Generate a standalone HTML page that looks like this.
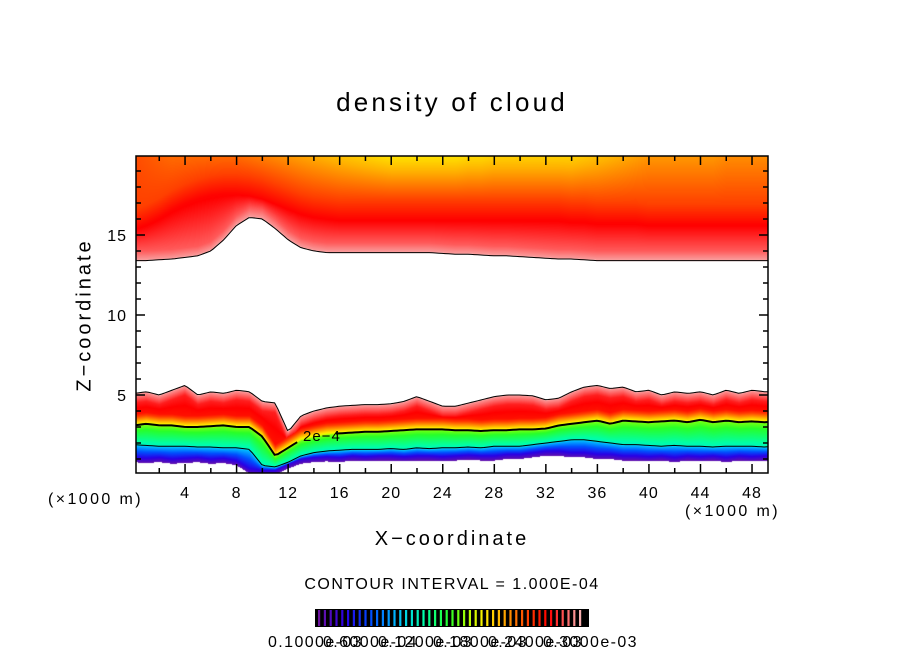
<!DOCTYPE html>
<html><head><meta charset="utf-8">
<style>
body{margin:0;background:#fff;width:904px;height:654px;overflow:hidden;position:relative;font-family:"Liberation Sans",sans-serif;}
.t{position:absolute;color:#000;white-space:nowrap;}
canvas{position:absolute;left:136px;top:156px;}
svg{position:absolute;left:0;top:0;}
</style></head><body>
<div class="t" style="left:0;width:904px;text-align:center;top:87px;font-size:26px;letter-spacing:3.2px;">density of cloud</div>
<canvas id="cv" width="632" height="317"></canvas>
<svg id="sv" width="904" height="654"></svg>
<div class="t" style="left:85px;top:315px;font-size:20px;transform:translate(-50%,-50%) rotate(-90deg);letter-spacing:3px;">Z−coordinate</div>
<div class="t" style="left:0;width:904px;text-align:center;top:528px;font-size:20px;letter-spacing:3px;">X−coordinate</div>
<div class="t" style="left:48px;top:491px;font-size:16px;letter-spacing:2.4px;">(×1000 m)</div>
<div class="t" style="left:685px;top:503px;font-size:16px;letter-spacing:2.4px;">(×1000 m)</div>
<div class="t" style="left:0;width:904px;text-align:center;top:576px;font-size:16px;letter-spacing:1.5px;">CONTOUR INTERVAL = 1.000E-04</div>
<div class="t" style="left:303px;top:428px;font-size:15px;letter-spacing:1px;">2e−4</div>
<script>
const xs=[...Array(51).keys()];
const zTop=[5.1,5.2,5.0,5.3,5.6,5.0,5.2,5.1,5.3,5.2,4.6,4.5,2.7,3.7,4.0,4.2,4.3,4.35,4.4,4.4,4.45,4.6,4.9,4.6,4.3,4.3,4.5,4.7,4.9,5.0,5.0,4.95,4.7,4.8,5.2,5.5,5.6,5.4,5.5,5.2,5.3,5.0,5.2,5.1,5.2,5.0,5.3,5.1,5.3,5.2,5.2];
const z2e4=[3.1,3.2,3.1,3.1,3.0,3.0,3.05,3.1,3.0,3.0,2.4,1.2,1.7,2.2,2.4,2.55,2.6,2.65,2.7,2.7,2.75,2.8,2.85,2.85,2.85,2.8,2.8,2.75,2.8,2.8,2.85,2.85,2.9,3.1,3.2,3.3,3.4,3.2,3.4,3.35,3.3,3.35,3.4,3.3,3.45,3.3,3.4,3.3,3.35,3.3,3.35];
const z1e4=[1.9,1.85,1.8,1.8,1.8,1.75,1.75,1.7,1.7,1.6,0.6,0.5,0.8,1.2,1.4,1.5,1.55,1.6,1.6,1.6,1.65,1.6,1.7,1.65,1.7,1.7,1.75,1.7,1.8,1.8,1.8,1.9,2.0,2.1,2.2,2.2,2.1,2.0,1.9,1.9,1.85,1.8,1.85,1.8,1.8,1.75,1.8,1.8,1.8,1.75,1.8];
const zBot=[0.8,0.75,0.8,0.7,0.75,0.8,0.7,0.75,0.6,0.1,0.0,0.0,0.4,0.7,0.8,0.85,0.8,0.9,0.85,0.9,0.9,0.85,0.9,0.9,0.85,0.9,0.95,0.9,0.9,1.0,1.0,1.1,1.2,1.2,1.1,1.1,1.0,1.0,0.9,0.9,0.85,0.9,0.8,0.9,0.85,0.9,0.8,0.9,0.85,0.9,0.9];
const zUpBase=[13.4,13.4,13.45,13.5,13.6,13.7,14.0,14.7,15.6,16.1,16.0,15.4,14.7,14.2,14.0,13.9,13.9,13.9,13.9,13.9,13.9,13.9,13.9,13.9,13.85,13.8,13.8,13.75,13.7,13.7,13.65,13.6,13.55,13.5,13.5,13.45,13.4,13.4,13.4,13.4,13.4,13.4,13.4,13.4,13.4,13.4,13.4,13.4,13.4,13.4,13.4];
const zUpCore=[15.4,15.7,16.1,16.6,17.0,17.3,17.5,17.6,17.6,17.5,17.3,17.0,16.7,16.4,16.2,16.1,16.0,16.0,16.0,16.0,16.0,16.0,16.0,16.0,16.0,16.0,16.0,16.0,16.0,16.0,16.0,16.0,16.0,16.0,15.9,15.9,15.8,15.8,15.8,15.8,15.7,15.7,15.7,15.7,15.7,15.7,15.7,15.7,15.7,15.7,15.7];
const topTone=[0.79,0.78,0.77,0.76,0.76,0.76,0.76,0.76,0.76,0.75,0.74,0.73,0.72,0.71,0.70,0.69,0.68,0.67,0.66,0.65,0.64,0.64,0.64,0.64,0.64,0.64,0.65,0.65,0.66,0.66,0.66,0.66,0.66,0.66,0.66,0.67,0.68,0.69,0.70,0.71,0.72,0.72,0.72,0.72,0.72,0.72,0.73,0.73,0.73,0.73,0.73];
const xTicks=[4,8,12,16,20,24,28,32,36,40,44,48];
const yTicks=[5,10,15];
const cbLabels=["0.1000e-03","0.6000e-04","0.1200e-03","0.1800e-03","0.2400e-03","0.3000e-03"];

const X=x=>133.5+x*12.886, Y=z=>395-(z-5)*16;
const stops=[[0,[110,20,160]],[0.1,[40,0,230]],[0.2,[0,80,255]],[0.3,[0,190,255]],[0.4,[0,255,170]],[0.5,[40,255,40]],[0.57,[180,255,0]],[0.63,[255,240,0]],[0.7,[255,176,0]],[0.8,[255,64,0]],[0.88,[255,0,0]],[0.94,[255,90,90]],[1,[248,176,176]]];
function cmap(t){t=Math.max(0,Math.min(1,t));for(let i=1;i<stops.length;i++){if(t<=stops[i][0]){const a=stops[i-1],b=stops[i],f=(t-a[0])/(b[0]-a[0]);return a[1].map((v,k)=>v+(b[1][k]-v)*f);}}return stops[stops.length-1][1];}
function interp(arr,x){const i=Math.max(0,Math.min(49,Math.floor(x)));const f=Math.max(0,Math.min(1,x-i));return arr[i]+(arr[i+1]-arr[i])*f;}
function pw(z,pts){if(z<=pts[0][0])return pts[0][1];for(let i=1;i<pts.length;i++){if(z<=pts[i][0]){const a=pts[i-1],b=pts[i];const d=b[0]-a[0];return d<=0?b[1]:a[1]+(b[1]-a[1])*(z-a[0])/d;}}return pts[pts.length-1][1];}
const cv=document.getElementById('cv'),ctx=cv.getContext('2d'),img=ctx.createImageData(632,317);
for(let i=0;i<632;i++){const x=(136+i+0.5-133.5)/12.886;
 const zt=interp(zTop,x),z2=interp(z2e4,x),z1=interp(z1e4,x),zb=interp(zBot,x),zu=interp(zUpBase,x),zc=interp(zUpCore,x),tt=interp(topTone,x);
 for(let j=0;j<317;j++){const z=5+(395-(156+j+0.5))/16;let c=[255,255,255];
  if(z>=zu){c=cmap(pw(z,[[zu,0.99],[zu+0.6,0.94],[zc,0.875],[zc+1.2,0.8],[20,tt]]));}
  else if(z>=zb&&z<=zt){
   c=cmap(pw(z,[[zb,0.02],[Math.min(zb+0.3,z1),0.1],[z1-0.05,0.3],[z1,0.38],[z2-0.05,0.54],[z2,0.6],[Math.min(z2+0.3,zt),0.72],[Math.min(z2+0.7,zt),0.86],[Math.max(zt-0.6,z2+0.7),0.9],[zt,0.99]]));}
  const k=(j*632+i)*4;img.data[k]=c[0];img.data[k+1]=c[1];img.data[k+2]=c[2];img.data[k+3]=255;}}
ctx.putImageData(img,0,0);

const NS='http://www.w3.org/2000/svg',sv=document.getElementById('sv');
function el(tag,at){const e=document.createElementNS(NS,tag);for(const k in at)e.setAttribute(k,at[k]);sv.appendChild(e);return e;}
function line(arr,w,name,skip){let d='';let pen=false;for(let i=0;i<=49.5;i+=0.25){const x=0.2+i;if(x>49.3)break;if(skip&&x>skip[0]&&x<skip[1]){pen=false;continue;}
 const px=X(x),py=Math.min(473,Y(interp(arr,x)));d+=(pen?'L':'M')+px.toFixed(1)+','+py.toFixed(1);pen=true;}
 const p=el('path',{d:d,fill:'none',stroke:'#000','stroke-width':w});
 
 }
line(zTop,1,'contour-lower-top');
line(z1e4,1,'contour-1e-4');
line(z2e4,2,'contour-2e-4',[12.9,15.5]);
line(zUpBase,1,'contour-upper-base');
const fr=el('rect',{x:136,y:156,width:632,height:317,fill:'none',stroke:'#000','stroke-width':1.5});


for(let x=2;x<=49;x+=2){const major=x%4===0,len=major?9:5;
 el('line',{x1:X(x),x2:X(x),y1:473,y2:473-len,stroke:'#000','stroke-width':1.5});
 el('line',{x1:X(x),x2:X(x),y1:156,y2:156+len,stroke:'#000','stroke-width':1.5});}
for(let z=1;z<=19;z++){const major=z%5===0,len=major?9:5;
 el('line',{x1:136,x2:136+len,y1:Y(z),y2:Y(z),stroke:'#000','stroke-width':1.5});
 el('line',{x1:768,x2:768-len,y1:Y(z),y2:Y(z),stroke:'#000','stroke-width':1.5});}
xTicks.forEach(v=>{const t=el('text',{x:X(v),y:498,'text-anchor':'middle','font-size':16,'letter-spacing':1,'font-family':'Liberation Sans'});t.textContent=v;
 
 });
yTicks.forEach(v=>{const t=el('text',{x:127,y:Y(v)+6,'text-anchor':'end','font-size':16,'letter-spacing':1,'font-family':'Liberation Sans'});t.textContent=v;
 
 });
const cb=el('rect',{x:315,y:609,width:274,height:18,fill:'#000'});


for(let i=0;i<46;i++){const c=cmap(i/45);el('rect',{x:318+i*5.8,y:610,width:2.2,height:16,fill:'rgb('+c.map(Math.round).join(',')+')'});}
cbLabels.forEach((s,i)=>{const t=el('text',{x:268+i*55,y:647,'font-size':16,'letter-spacing':1.4,'font-family':'Liberation Sans'});t.textContent=s;
 
 });
</script>
</body></html>
